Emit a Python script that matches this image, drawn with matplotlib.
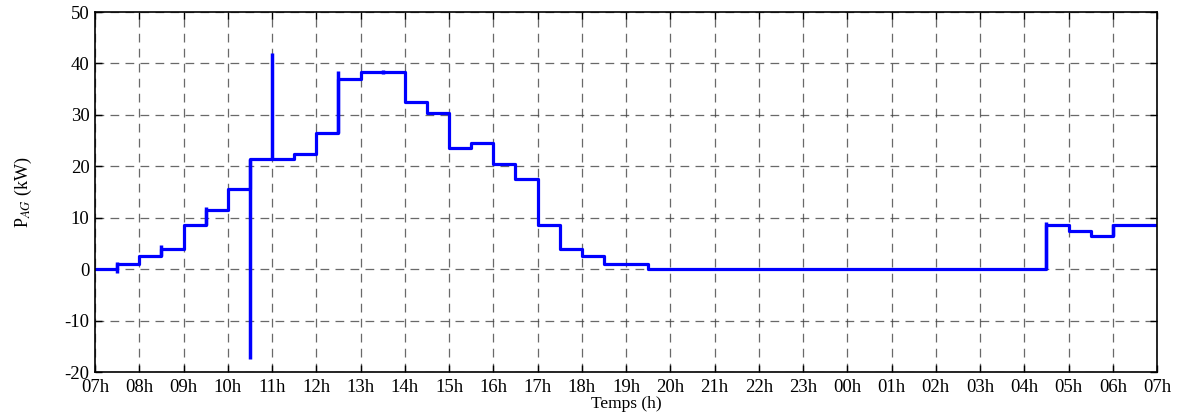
import matplotlib
matplotlib.use("Agg")
import matplotlib.pyplot as plt
import numpy as np

# Step breakpoints (hours after 07h) and levels (kW)
t_steps = [0, 0.5, 1.0, 1.5, 2.0, 2.5, 3.0, 3.5, 4.5, 5.0, 5.5, 6.0, 7.0, 7.5, 8.0,
           8.5, 9.0, 9.5, 10.0, 10.5, 11.0, 11.5, 12.5, 21.5, 22.0, 22.5, 23.0, 24.0]
p_steps = [0, 1.0, 2.5, 4.0, 8.5, 11.5, 15.5, 21.5, 22.3, 26.5, 37.0, 38.3, 32.5, 30.4, 23.6,
           24.5, 20.5, 17.5, 8.5, 4.0, 2.5, 1.0, 0, 8.5, 7.5, 6.5, 8.5, 8.5]

# Transient spikes: time, min, max
spike_t = [0.5, 1.5, 2.5, 3.5, 4.0, 5.5, 6.5, 21.5, 23.0]
spike_lo = [-0.8, 2.5, 8.5, -17.5, 21.5, 26.5, 38.0, 0.0, 6.5]
spike_hi = [1.3, 4.6, 12.0, 21.5, 42.0, 38.5, 38.8, 9.2, 8.8]

xtick_labels = ["07h", "08h", "09h", "10h", "11h", "12h", "13h", "14h", "15h", "16h", "17h",
                "18h", "19h", "20h", "21h", "22h", "23h", "00h", "01h", "02h", "03h", "04h",
                "05h", "06h", "07h"]

plt.rcParams['font.family'] = ['Liberation Serif', 'DejaVu Serif']
plt.rcParams['mathtext.fontset'] = 'stix'
plt.rcParams['axes.unicode_minus'] = False

fig = plt.figure(figsize=(11.86, 4.19), dpi=100)
ax = fig.add_axes([95/1186, 47/419, (1157-95)/1186, (372-12)/419])

ax.step(t_steps, p_steps, where='post', color='#0000ff', lw=2.3)
ax.vlines(spike_t, spike_lo, spike_hi, color='#0000ff', lw=2.5)

ax.set_xlim(0, 24)
ax.set_ylim(-20, 50)
ax.set_xticks(np.arange(len(xtick_labels)))
ax.set_xticklabels(xtick_labels)
ax.set_yticks(np.arange(-20, 51, 10))
ax.tick_params(direction='in', top=True, right=True, labelsize=13.5, length=5, width=1)
ax.tick_params(axis='x', pad=5)
ax.tick_params(axis='y', pad=4)
ax.grid(True, linestyle=(0, (7, 5)), color='#444444', lw=0.9, alpha=0.8)
for s in ax.spines.values():
    s.set_linewidth(1.2)

ax.set_xlabel('Temps (h)', fontsize=12.5, labelpad=0)
ax.set_ylabel(r'P$_{AG}$ (kW)', fontsize=13, labelpad=22)

fig.savefig('out.png', dpi=100)
